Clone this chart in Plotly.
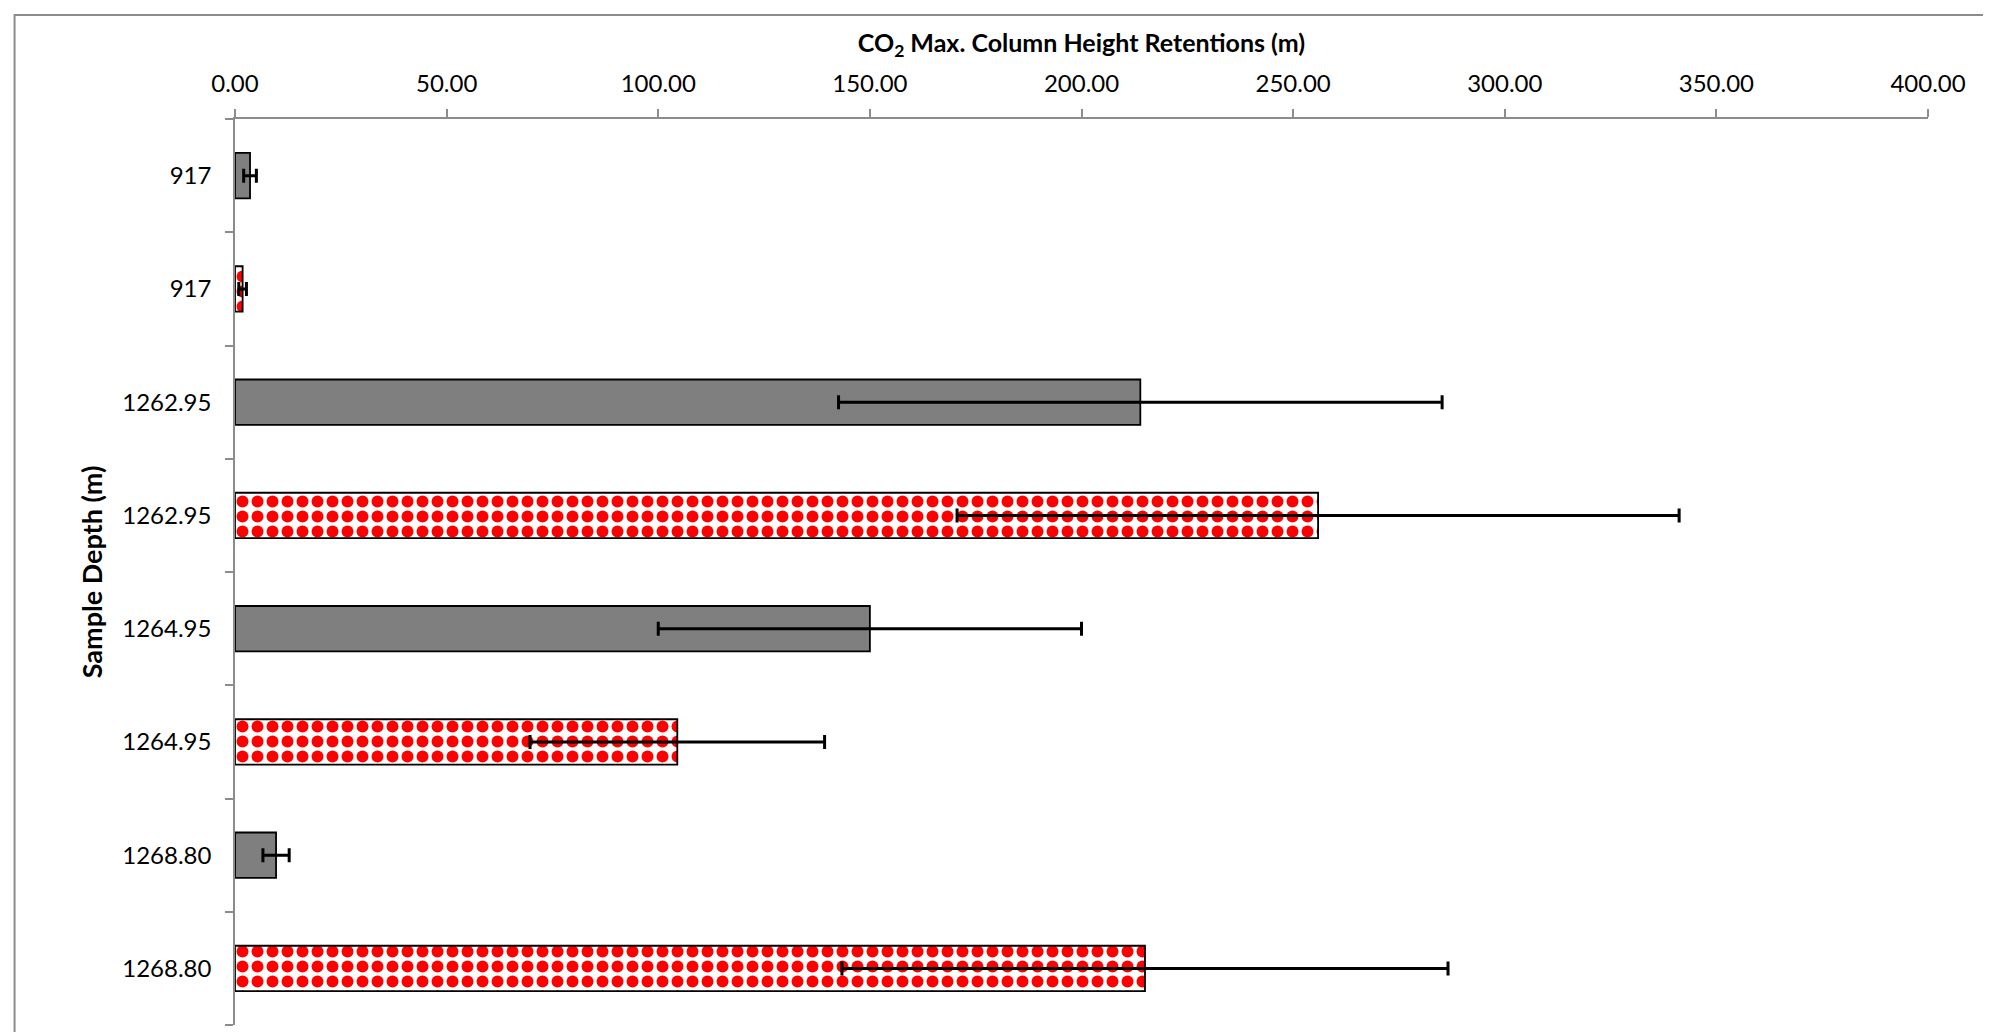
import plotly.graph_objects as go

# ---- data ----
depths = ["917", "1262.95", "1264.95", "1268.80"]
gray_values = [3.55, 213.9, 150.0, 9.7]
gray_errors = [1.5, 71.3, 50.0, 3.1]
red_values = [1.8, 255.9, 104.5, 215.0]
red_errors = [0.9, 85.3, 34.8, 71.6]
x_ticks = [0, 50, 100, 150, 200, 250, 300, 350, 400]

# one category per bar (gray then red for every depth)
gray_ids = [f"{d} a" for d in depths]
red_ids = [f"{d} b" for d in depths]
order = [c for pair in zip(gray_ids, red_ids) for c in pair]
order_text = [d for d in depths for _ in range(2)]

FONT = "Lato"

fig = go.Figure()
fig.add_trace(go.Bar(
    y=gray_ids, x=gray_values, orientation="h", name="gray",
    marker=dict(color="#7F7F7F", line=dict(color="black", width=1.8)),
    error_x=dict(type="data", array=gray_errors, visible=True,
                 color="black", thickness=3, width=7),
))
fig.add_trace(go.Bar(
    y=red_ids, x=red_values, orientation="h", name="red",
    marker=dict(color="white", line=dict(color="black", width=1.8),
                pattern=dict(shape=".", fgcolor="#FF0000", bgcolor="white",
                             fgopacity=1, fillmode="replace",
                             size=15, solidity=0.5)),
    error_x=dict(type="data", array=red_errors, visible=True,
                 color="black", thickness=3, width=7),
))

fig.update_layout(
    width=1991, height=1032,
    margin=dict(l=227, r=71, t=111, b=15, autoexpand=False),
    paper_bgcolor="white", plot_bgcolor="white",
    barmode="overlay", bargap=0.6,
    showlegend=False,
    font=dict(family=FONT, color="black", size=24),
)

fig.update_xaxes(
    side="top", range=[0, 400], tickvals=x_ticks, tickformat=".2f",
    automargin=False,
    showgrid=False, zeroline=False,
    showline=True, linecolor="#8C8C8C", linewidth=1.5,
    ticks="outside", ticklen=8, tickcolor="#8C8C8C", tickwidth=1.5,
    ticklabelstandoff=8,
    tickfont=dict(family=FONT, size=24, color="black"),
    title=dict(text="<b>CO<sub>2</sub> Max. Column Height Retentions (m)</b>",
               font=dict(family=FONT, size=25, color="black"), standoff=8),
)

fig.update_yaxes(
    type="category", categoryorder="array", categoryarray=order,
    tickvals=order, ticktext=order_text,
    autorange="reversed", automargin=False,
    showgrid=False, zeroline=False,
    showline=True, linecolor="#8C8C8C", linewidth=1.5,
    ticks="outside", tickson="boundaries", ticklen=8,
    tickcolor="#8C8C8C", tickwidth=1.5,
    ticklabelstandoff=17,
    tickfont=dict(family=FONT, size=24, color="black"),
    title=dict(text="<b>Sample Depth (m)</b>",
               font=dict(family=FONT, size=27, color="black"), standoff=12),
)

# outer chart border
fig.add_shape(type="rect", xref="paper", yref="paper",
              x0=-0.1302, x1=1.0384, y0=-0.1, y1=1.1148,
              line=dict(color="#8C8C8C", width=2), layer="below")

fig.write_html("out.html")
